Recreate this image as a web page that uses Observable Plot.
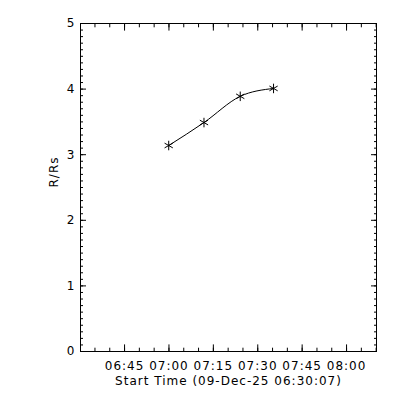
<!DOCTYPE html>
<html><head><meta charset="utf-8">
<script src="https://cdn.jsdelivr.net/npm/d3@7"></script>
<script src="https://cdn.jsdelivr.net/npm/@observablehq/plot@0.6"></script>
<style>body{margin:0;background:#fff}</style>
</head><body><div id="chart"></div>
<script>
const startTime = "2025-12-09T06:30:07Z";
const endTime = "2025-12-09T08:10:07Z";
const obsTimes = ["2025-12-09T06:59:55Z", "2025-12-09T07:11:50Z", "2025-12-09T07:24:05Z", "2025-12-09T07:35:20Z"];
const heights = [3.14, 3.49, 3.89, 4.01];
const majorTimeTicks = ["2025-12-09T06:45:00Z","2025-12-09T07:00:00Z","2025-12-09T07:15:00Z","2025-12-09T07:30:00Z","2025-12-09T07:45:00Z","2025-12-09T08:00:00Z"];
const yMajorTicks = [0, 1, 2, 3, 4, 5];
const xLabel = "Start Time (09-Dec-25 06:30:07)";
const yLabel = "R/Rs";

const start = new Date(startTime), end = new Date(endTime);
const majorDates = majorTimeTicks.map(d => new Date(d));
const minorDates = d3.utcMinute.every(5).range(start, end);
const yMinorTicks = d3.range(0, 51).map(i => i / 10);
const points = obsTimes.map((t, i) => ({t: new Date(t), r: heights[i]}));
const blank = () => "";

const chart = Plot.plot({
  width: 400, height: 400,
  marginLeft: 80, marginRight: 24, marginTop: 23, marginBottom: 49,
  style: {fontFamily: "DejaVu Sans", fontSize: "12px", letterSpacing: "1px", color: "black", background: "white"},
  x: {type: "utc", domain: [start, end]},
  y: {domain: [0, 5]},
  marks: [
    Plot.frame({stroke: "black"}),
    Plot.axisX(majorDates, {anchor: "bottom", tickSize: -6.6, tickFormat: blank, label: null}),
    Plot.axisX(majorDates, {anchor: "top", tickSize: -6.6, tickFormat: blank, label: null}),
    Plot.axisX(minorDates, {anchor: "bottom", tickSize: -3.3, tickFormat: blank, label: null}),
    Plot.axisX(minorDates, {anchor: "top", tickSize: -3.3, tickFormat: blank, label: null}),
    Plot.axisX(majorDates, {anchor: "bottom", tickSize: 0, tickPadding: 10, tickFormat: d3.utcFormat("%H:%M"), label: null}),
    Plot.axisY(yMajorTicks, {anchor: "left", tickSize: -6, tickFormat: blank, label: null}),
    Plot.axisY(yMajorTicks, {anchor: "right", tickSize: -6, tickFormat: blank, label: null}),
    Plot.axisY(yMinorTicks, {anchor: "left", tickSize: -3, tickFormat: blank, label: null}),
    Plot.axisY(yMinorTicks, {anchor: "right", tickSize: -3, tickFormat: blank, label: null}),
    Plot.axisY(yMajorTicks, {anchor: "left", tickSize: 0, tickPadding: 5, tickFormat: d3.format("d"), label: null}),
    Plot.text([xLabel], {frameAnchor: "bottom", dy: 33, text: d => d, fill: "black"}),
    Plot.text([yLabel], {frameAnchor: "left", dx: -26, rotate: -90, text: d => d, fill: "black"}),
    Plot.line(points, {x: "t", y: "r", curve: "monotone-x", stroke: "black", strokeWidth: 1}),
    Plot.dot(points, {x: "t", y: "r", symbol: "asterisk", r: 4.5, stroke: "black", strokeWidth: 1})
  ]
});
document.getElementById("chart").appendChild(chart);
</script>
</body></html>
